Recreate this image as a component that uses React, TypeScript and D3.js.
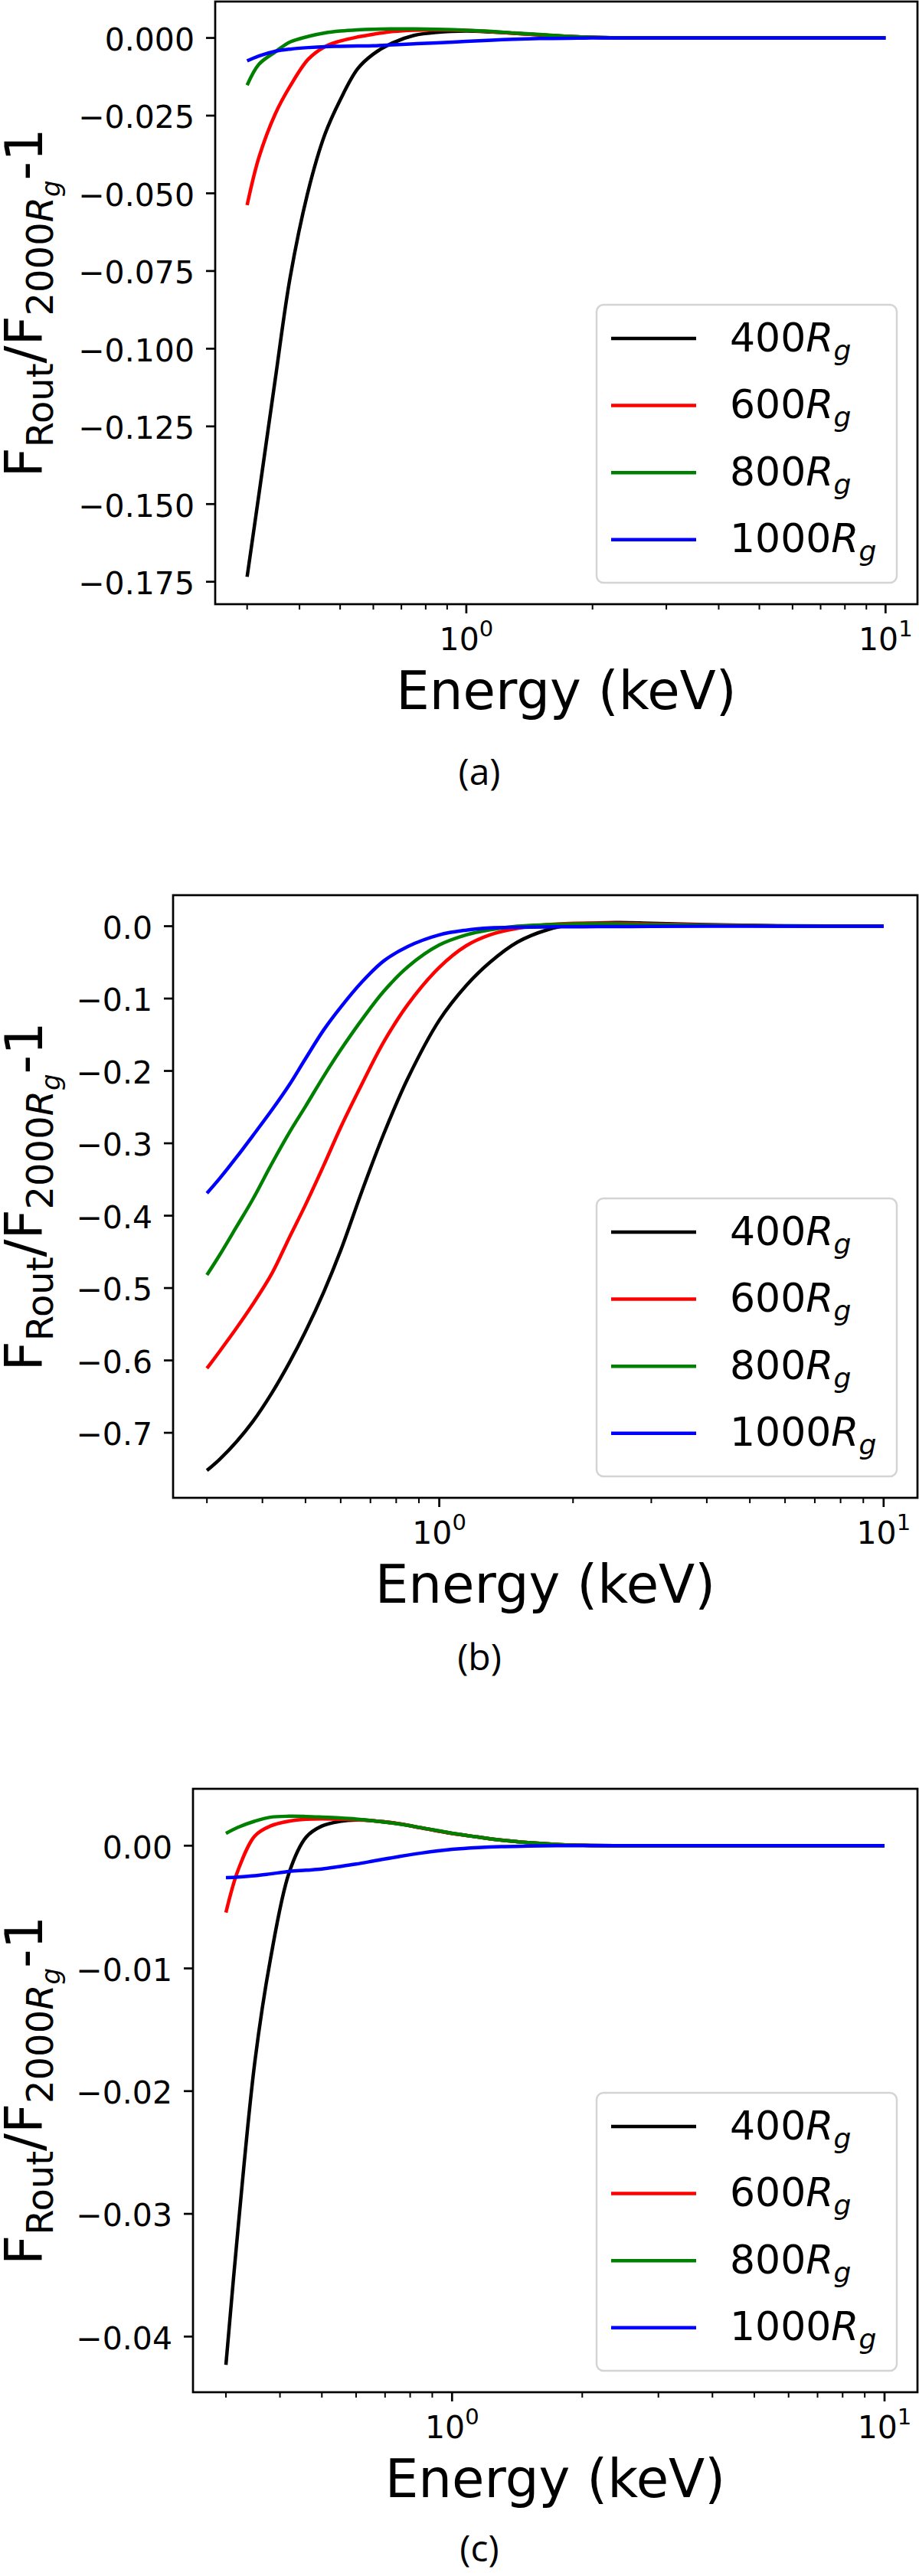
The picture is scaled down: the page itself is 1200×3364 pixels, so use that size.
import React, { useEffect, useRef } from 'react';
import * as d3 from 'd3';

// Energy grid (keV) shared by every curve
const energy = [0.3, 0.32, 0.35, 0.38, 0.42, 0.46, 0.5, 0.55, 0.6, 0.67, 0.75, 0.85, 1.0, 1.15, 1.3, 1.5, 1.75, 2.0, 2.5, 3.0, 4.0, 6.0, 10.0];

const radii = ['400', '600', '800', '1000'];
const colors = ['#000000', '#ff0000', '#008000', '#0000ff'];

// Panel (a)
const a400 = [-0.1734, -0.147, -0.11, -0.077, -0.049, -0.031, -0.02, -0.01, -0.0052, -0.0015, 0.0008, 0.0018, 0.0022, 0.0019, 0.0015, 0.001, 0.0005, 0.0002, 0, 0, 0, 0, 0];
const a600 = [-0.0538, -0.0385, -0.0245, -0.0155, -0.0068, -0.0028, -0.001, 0.0003, 0.0012, 0.0021, 0.0025, 0.0026, 0.0024, 0.002, 0.0015, 0.001, 0.0005, 0.0002, 0, 0, 0, 0, 0];
const a800 = [-0.0152, -0.0085, -0.0045, -0.0013, 0.0005, 0.0016, 0.0022, 0.0026, 0.0028, 0.0029, 0.0029, 0.0028, 0.0025, 0.0021, 0.0016, 0.0011, 0.0005, 0.0002, 0, 0, 0, 0, 0];
const a1000 = [-0.0074, -0.0058, -0.0043, -0.0036, -0.0031, -0.0028, -0.0027, -0.0026, -0.0025, -0.0022, -0.0019, -0.0016, -0.0011, -0.0007, -0.0004, -0.0002, -0.0001, 0, 0, 0, 0, 0, 0];

// Panel (b)
const b400 = [-0.752, -0.737, -0.712, -0.685, -0.645, -0.603, -0.56, -0.505, -0.448, -0.366, -0.287, -0.21, -0.13, -0.082, -0.05, -0.022, -0.005, 0.002, 0.005, 0.004, 0.002, 0.0005, 0];
const b600 = [-0.611, -0.588, -0.555, -0.523, -0.48, -0.43, -0.385, -0.33, -0.278, -0.218, -0.16, -0.108, -0.057, -0.027, -0.012, -0.003, 0.002, 0.004, 0.004, 0.003, 0.0015, 0.0003, 0];
const b800 = [-0.482, -0.455, -0.415, -0.378, -0.328, -0.285, -0.249, -0.207, -0.171, -0.129, -0.09, -0.056, -0.026, -0.012, -0.005, 0, 0.002, 0.003, 0.003, 0.002, 0.001, 0.0002, 0];
const b1000 = [-0.369, -0.349, -0.319, -0.29, -0.254, -0.219, -0.183, -0.143, -0.112, -0.077, -0.048, -0.028, -0.012, -0.0055, -0.0025, -0.0015, -0.001, -0.0008, -0.0005, -0.0003, -0.0001, 0, 0];

// Panel (c)
const c400 = [-0.0423, -0.0312, -0.0176, -0.0093, -0.0022, 0.0007, 0.0016, 0.00198, 0.0021, 0.002, 0.0018, 0.00145, 0.001, 0.0007, 0.00045, 0.00025, 0.0001, 0.00003, 0, 0, 0, 0, 0];
const c600 = [-0.00545, -0.002, 0.0008, 0.0016, 0.002, 0.00215, 0.00218, 0.00215, 0.0021, 0.002, 0.0018, 0.00145, 0.001, 0.0007, 0.00045, 0.00025, 0.0001, 0.00003, 0, 0, 0, 0, 0];
const c800 = [0.001, 0.0015, 0.002, 0.00232, 0.0024, 0.00238, 0.00233, 0.00226, 0.00217, 0.002, 0.00178, 0.00146, 0.00102, 0.0007, 0.00045, 0.00025, 0.0001, 0.00003, 0, 0, 0, 0, 0];
const c1000 = [-0.0026, -0.00255, -0.00245, -0.0023, -0.0021, -0.002, -0.0019, -0.0017, -0.0015, -0.0012, -0.0009, -0.0006, -0.0003, -0.00015, -0.00007, -0.00003, 0, 0, 0, 0, 0, 0, 0];

// Tick values
const yTicksA = [0, -0.025, -0.05, -0.075, -0.1, -0.125, -0.15, -0.175];
const yTicksB = [0, -0.1, -0.2, -0.3, -0.4, -0.5, -0.6, -0.7];
const yTicksC = [0, -0.01, -0.02, -0.03, -0.04];
const xMajor = [1, 10];
const xMinor = [0.3, 0.4, 0.5, 0.6, 0.7, 0.8, 0.9, 2, 3, 4, 5, 6, 7, 8, 9];
const xExponents = ['0', '1'];

const FONT = 'DejaVu Sans';

interface PanelProps {
  series: number[][];
  yTicks: number[];
  yFormat: string;
  left: number;
  right: number;
  top: number;
  bottom: number;
  caption: string;
  captionY: number;
}

const Panel: React.FC<PanelProps> = ({ series, yTicks, yFormat, left, right, top, bottom, caption, captionY }) => {
  const gRef = useRef<SVGGElement>(null);

  useEffect(() => {
    if (!gRef.current) return;
    const g = d3.select(gRef.current);
    g.selectAll('*').remove();

    // log x with matplotlib-like 5% margins
    const e0 = energy[0];
    const e1 = energy[energy.length - 1];
    const span = Math.log10(e1 / e0);
    const x = d3
      .scaleLog()
      .domain([e0 * Math.pow(10, -0.05 * span), e1 * Math.pow(10, 0.05 * span)])
      .range([left, right]);

    const all = series.flat();
    const lo = d3.min(all) as number;
    const hi = d3.max(all) as number;
    const pad = (hi - lo) * 0.05;
    const y = d3.scaleLinear().domain([lo - pad, hi + pad]).range([bottom, top]);

    // Curves
    const line = d3
      .line<number>()
      .x((_, i) => x(energy[i]))
      .y(d => y(d))
      .curve(d3.curveCatmullRom.alpha(0.5));

    series.forEach((s, k) => {
      g.append('path')
        .attr('d', line(s) as string)
        .attr('fill', 'none')
        .attr('stroke', colors[k])
        .attr('stroke-width', 4.5);
    });

    // Frame
    g.append('rect')
      .attr('x', left)
      .attr('y', top)
      .attr('width', right - left)
      .attr('height', bottom - top)
      .attr('fill', 'none')
      .attr('stroke', '#000')
      .attr('stroke-width', 2.7);

    // Y ticks
    const fmt = d3.format(yFormat);
    yTicks.forEach(t => {
      g.append('line')
        .attr('x1', left - 12)
        .attr('x2', left)
        .attr('y1', y(t))
        .attr('y2', y(t))
        .attr('stroke', '#000')
        .attr('stroke-width', 2.7);
      g.append('text')
        .attr('x', left - 27)
        .attr('y', y(t))
        .attr('dy', '0.4em')
        .attr('text-anchor', 'end')
        .attr('font-family', FONT)
        .attr('font-size', 41)
        .text(fmt(t));
    });

    // X ticks
    xMinor.forEach(t => {
      g.append('line')
        .attr('x1', x(t))
        .attr('x2', x(t))
        .attr('y1', bottom)
        .attr('y2', bottom + 7)
        .attr('stroke', '#000')
        .attr('stroke-width', 2);
    });
    xMajor.forEach((t, i) => {
      g.append('line')
        .attr('x1', x(t))
        .attr('x2', x(t))
        .attr('y1', bottom)
        .attr('y2', bottom + 12)
        .attr('stroke', '#000')
        .attr('stroke-width', 2.7);
      const lbl = g
        .append('text')
        .attr('x', x(t))
        .attr('y', bottom + 60)
        .attr('text-anchor', 'middle')
        .attr('font-family', FONT)
        .attr('font-size', 41);
      lbl.append('tspan').text('10');
      lbl.append('tspan').attr('font-size', 29).attr('dy', -18).text(xExponents[i]);
    });

    // X label
    g.append('text')
      .attr('x', (left + right) / 2)
      .attr('y', bottom + 137)
      .attr('text-anchor', 'middle')
      .attr('font-family', FONT)
      .attr('font-size', 69)
      .text('Energy (keV)');

    // Y label
    const yl = g
      .append('text')
      .attr('transform', `translate(55,${(top + bottom) / 2}) rotate(-90)`)
      .attr('text-anchor', 'middle')
      .attr('font-family', FONT)
      .attr('font-size', 68);
    yl.append('tspan').text('F');
    yl.append('tspan').attr('font-size', 48).attr('dy', 14).text('Rout');
    yl.append('tspan').attr('dy', -14).text('/F');
    yl.append('tspan').attr('font-size', 48).attr('dy', 14).text('2000');
    yl.append('tspan').attr('font-size', 48).attr('font-style', 'italic').text('R');
    yl.append('tspan').attr('font-size', 34).attr('font-style', 'italic').attr('dy', 9).text('g');
    yl.append('tspan').attr('dy', -23).text('-1');

    // Legend
    const lw = 392;
    const lh = 363;
    const lx = right - 27 - lw;
    const ly = bottom - 28 - lh;
    g.append('rect')
      .attr('x', lx)
      .attr('y', ly)
      .attr('width', lw)
      .attr('height', lh)
      .attr('rx', 9)
      .attr('fill', '#fff')
      .attr('fill-opacity', 0.8)
      .attr('stroke', '#d4d4d4')
      .attr('stroke-width', 2.5);

    radii.forEach((r, i) => {
      const cy = ly + 44 + i * 87.6;
      g.append('line')
        .attr('x1', lx + 19)
        .attr('x2', lx + 130)
        .attr('y1', cy)
        .attr('y2', cy)
        .attr('stroke', colors[i])
        .attr('stroke-width', 4.5);
      const t = g
        .append('text')
        .attr('x', lx + 174)
        .attr('y', cy + 16.5)
        .attr('font-family', FONT)
        .attr('font-size', 52);
      t.append('tspan').text(r);
      t.append('tspan').attr('font-style', 'italic').text('R');
      t.append('tspan').attr('font-style', 'italic').attr('font-size', 36).attr('dy', 11).text('g');
    });

    // Caption
    g.append('text')
      .attr('x', 626)
      .attr('y', captionY)
      .attr('text-anchor', 'middle')
      .attr('font-family', 'Open Sans')
      .attr('font-size', 48)
      .text(caption);
  }, [series, yTicks, yFormat, left, right, top, bottom, caption, captionY]);

  return <g ref={gRef} />;
};

const App: React.FC = () => {
  return (
    <svg
      width={1200}
      height={3364}
      style={{ position: 'absolute', left: 0, top: 0, background: '#fff' }}
    >
      <rect x={0} y={0} width={1200} height={3364} fill="#fff" />
      <Panel
        series={[a400, a600, a800, a1000]}
        yTicks={yTicksA}
        yFormat=".3f"
        left={281}
        right={1198}
        top={2}
        bottom={789}
        caption="(a)"
        captionY={1025}
      />
      <Panel
        series={[b400, b600, b800, b1000]}
        yTicks={yTicksB}
        yFormat=".1f"
        left={226}
        right={1198}
        top={1169}
        bottom={1956}
        caption="(b)"
        captionY={2181}
      />
      <Panel
        series={[c400, c600, c800, c1000]}
        yTicks={yTicksC}
        yFormat=".2f"
        left={252}
        right={1198}
        top={2336}
        bottom={3124}
        caption="(c)"
        captionY={3345}
      />
    </svg>
  );
};

export default App;
